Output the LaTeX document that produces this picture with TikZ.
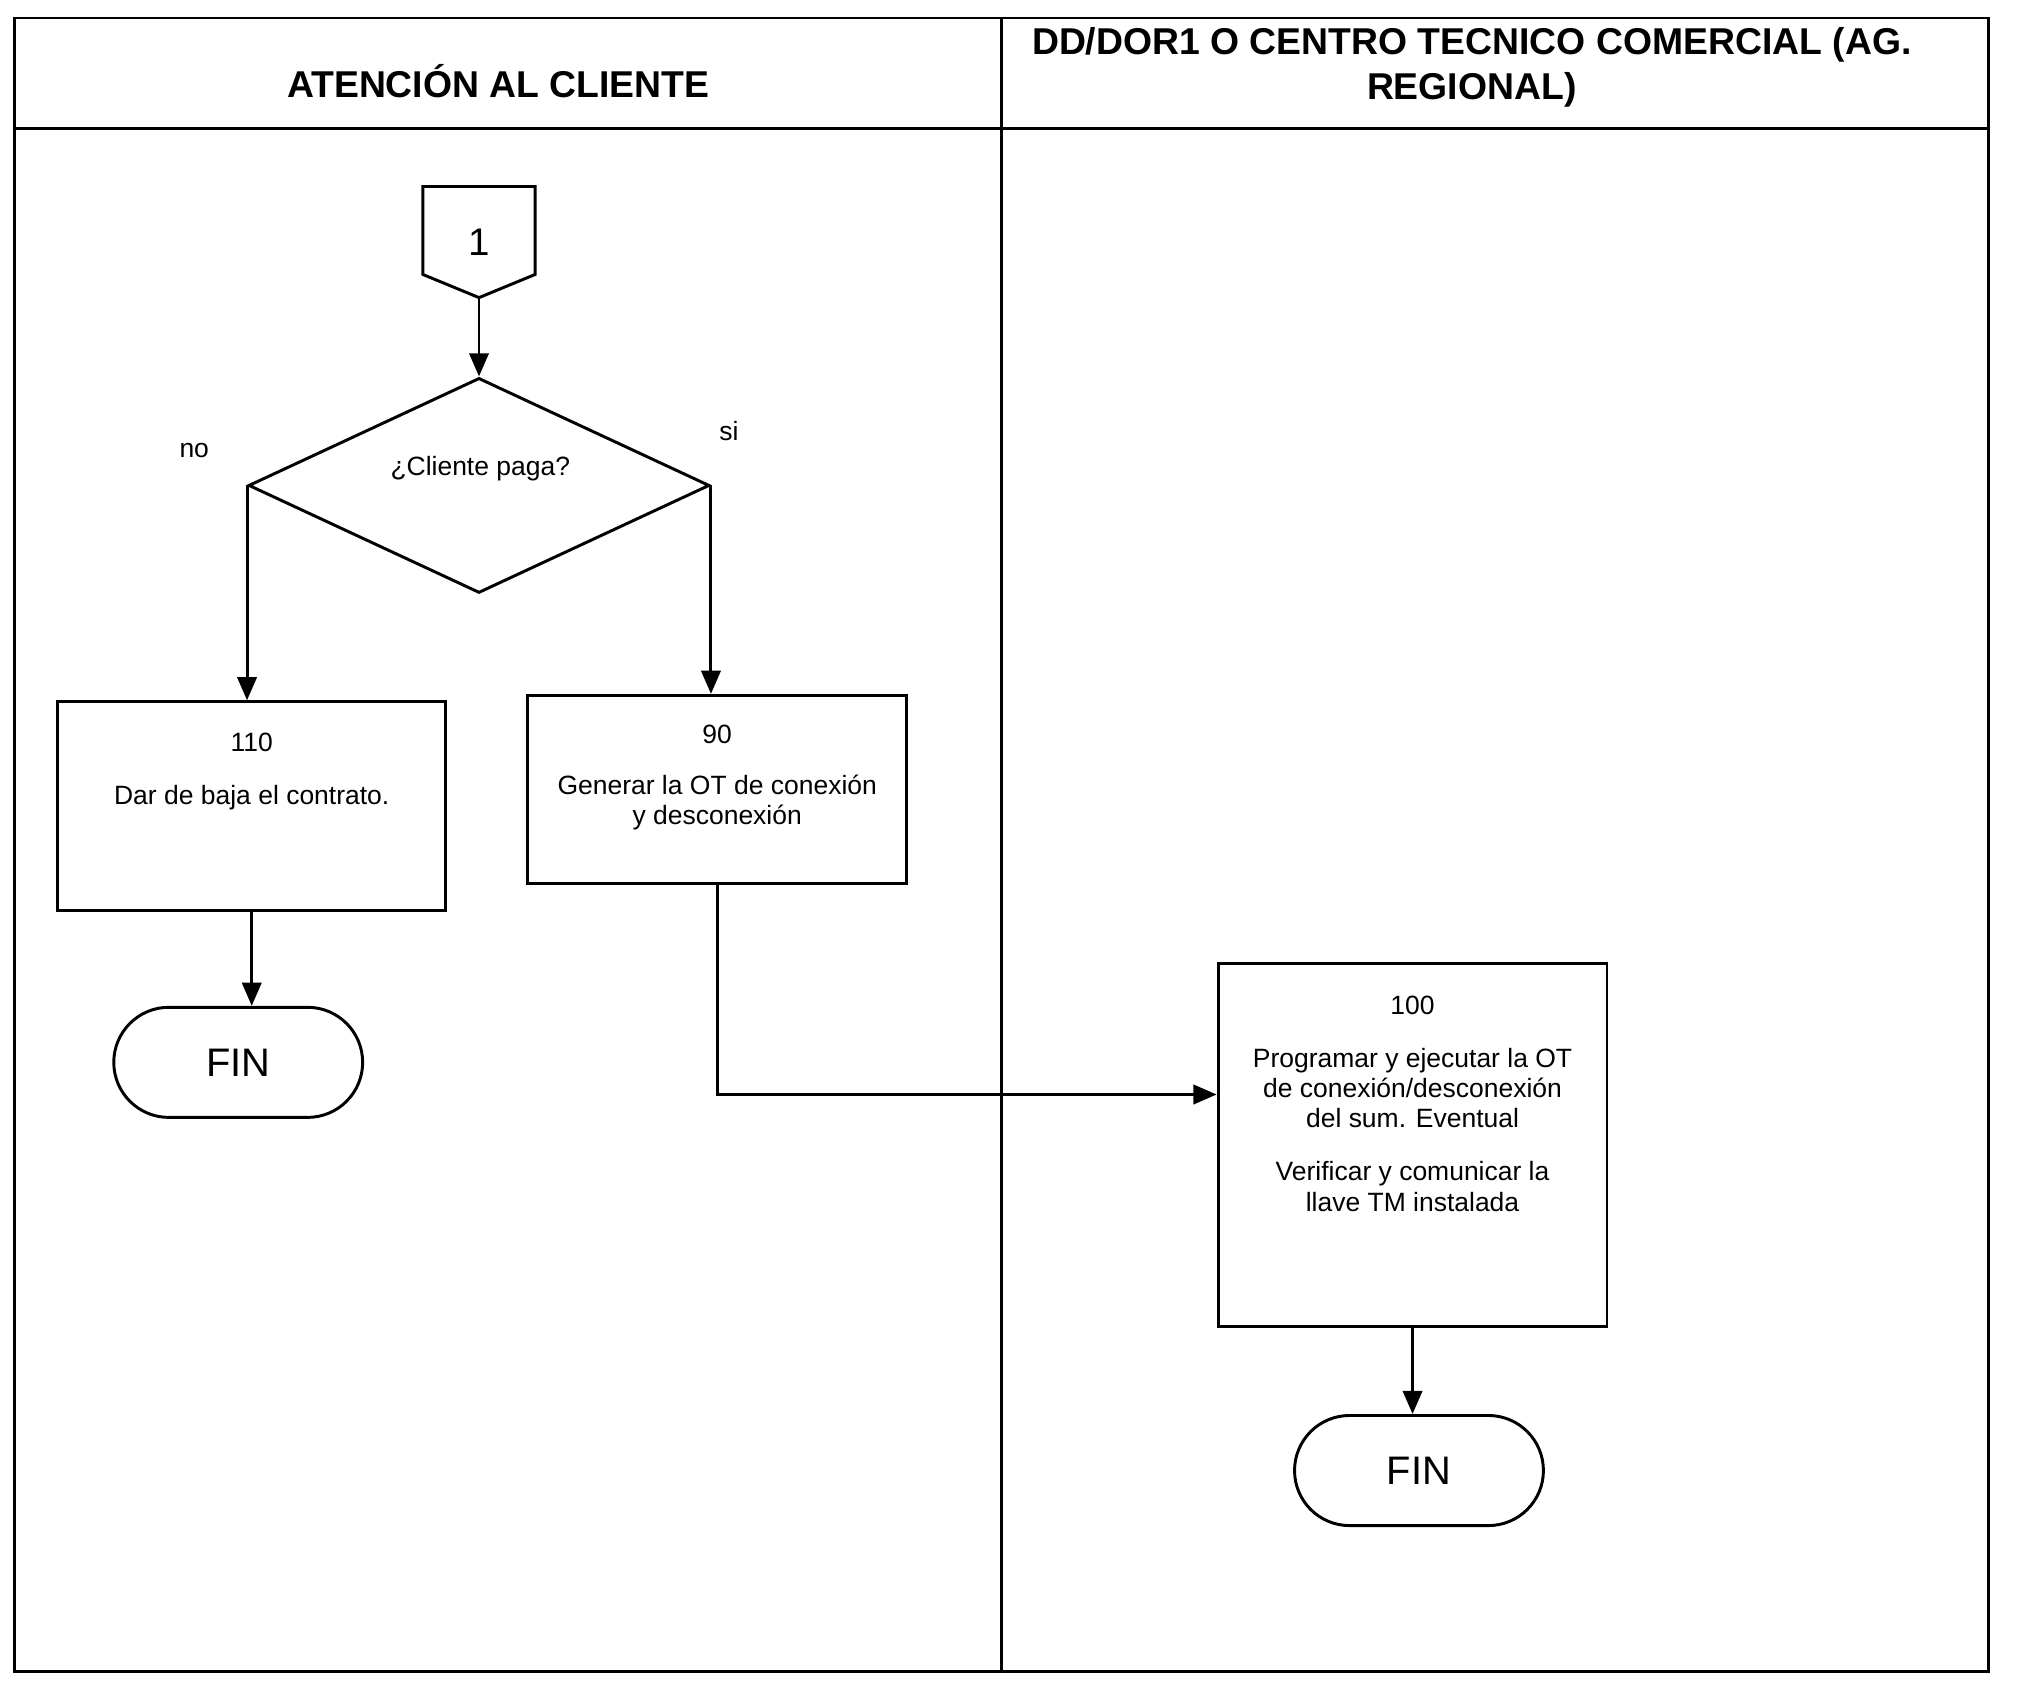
\documentclass[tikz,border=0pt]{standalone}
\usepackage{fontspec}
\setmainfont{Liberation Sans}
\usetikzlibrary{positioning}
\usetikzlibrary{arrows.meta}
\usetikzlibrary{shapes.geometric,shapes.misc}

\begin{document}
\begin{tikzpicture}[->,>={Triangle[length=0.36cm,width=0.3cm]},line width=1.3pt,
	nodes={font=\fontsize{11.7}{13.4}\selectfont, align=center},
	box/.style={draw, rectangle},
	decision/.style={draw, diamond, inner sep=0pt, minimum width=7.16cm, minimum height=3.34cm},
	term/.style={draw, rounded rectangle, minimum width=4.1cm, minimum height=1.71cm, font=\fontsize{17.6}{20}\selectfont},
	lane/.style={font=\bfseries\fontsize{16.5}{19.9}\selectfont}]
		\useasboundingbox (0,0) rectangle (31.36,-26.3);
		% swimlanes
		\draw[-] (0.22,-0.28) rectangle (30.88,-25.96);
		\draw[-] (0.22,-2.0) -- (30.88,-2.0);
		\draw[-] (15.56,-0.28) -- (15.56,-25.96);
		\node (hdrA) [lane] at (7.74,-1.26) {ATENCIÓN AL CLIENTE};
		\node (hdrB) [lane] at (22.86,-1.05) {DD/DOR1 O CENTRO TECNICO COMERCIAL (AG.\\REGIONAL)};
		% off-page connector
		\node (c1) [minimum width=1.7cm, minimum height=1.68cm, font=\fontsize{17}{20}\selectfont] at (7.44,-3.76) {1};
		\draw[-] (c1.north west) -- (c1.north east) -- ([yshift=0.36cm]c1.south east) -- (c1.south) -- ([yshift=0.36cm]c1.south west) -- cycle;
		\node (q1) [decision] at (7.44,-7.54) {};
		\node (q1txt) at (7.46,-7.28) {¿Cliente paga?};
		\node (no) at ([shift={(-0.82,0.54)}]q1.west) {no};
		\node (si) at ([shift={(0.28,0.84)}]q1.east) {si};
		\node (b110) [box, minimum width=6.02cm, minimum height=3.24cm] at (3.91,-12.52) {};
		\node (t110) [below=0.37cm of b110.north] {110\\[10pt]Dar de baja el contrato.};
		\node (b90) [box, minimum width=5.88cm, minimum height=2.92cm] at (11.14,-12.26) {};
		\node (t90) [below=0.35cm of b90.north] {90\\[9pt]Generar la OT de conexión\\y desconexión};
		\node (b100) [box, minimum width=6.04cm, minimum height=5.64cm] at (21.94,-17.78) {};
		\node (t100) [below=0.39cm of b100.north] {100\\[10pt]Programar y ejecutar la OT\\de conexión/desconexión\\del sum. Eventual\\[10pt]Verificar y comunicar la\\llave TM instalada};
		\node (fin1) [term, below=1.46cm of b110, xshift=-0.21cm] {FIN};
		\node (fin2) [term, below=1.34cm of b100, xshift=0.1cm] {FIN};
		\draw (c1.south) -- (q1.north);
		\draw (q1.west) -- (q1.west |- b110.north);
		\draw (q1.east) -- (q1.east |- b90.north);
		\draw (b110.south) -- (b110.south |- fin1.north);
		\draw (b90.south) |- ([yshift=0.78cm]b100.west);
		\draw (b100.south) -- (b100.south |- fin2.north);
\end{tikzpicture}
\end{document}
